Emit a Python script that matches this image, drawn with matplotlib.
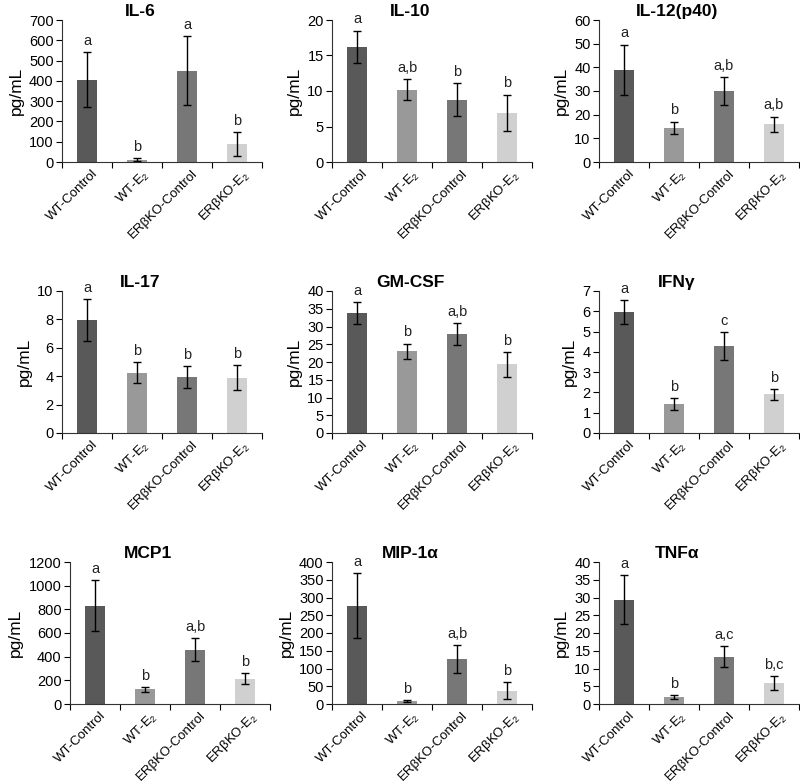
import matplotlib
matplotlib.use('Agg')
import matplotlib.pyplot as plt
import numpy as np

plt.rcParams['font.family'] = ['Liberation Sans', 'DejaVu Sans']
plt.rcParams['mathtext.fontset'] = 'custom'
plt.rcParams['mathtext.rm'] = 'Liberation Sans'
plt.rcParams['mathtext.default'] = 'rm'

groups = ['WT-Control', 'WT-E$_2$', 'ERβKO-Control', 'ERβKO-E$_2$']
colors = ['#595959', '#999999', '#777777', '#d0d0d0']

titles = ['IL-6', 'IL-10', 'IL-12(p40)', 'IL-17', 'GM-CSF', 'IFNγ', 'MCP1', 'MIP-1α', 'TNFα']

il6 = [405, 12, 450, 88]
il6_err = [135, 8, 170, 58]
il6_sig = ['a', 'b', 'a', 'b']

il10 = [16.2, 10.2, 8.8, 6.9]
il10_err = [2.3, 1.5, 2.3, 2.6]
il10_sig = ['a', 'a,b', 'b', 'b']

il12 = [39, 14.4, 30, 16]
il12_err = [10.6, 2.7, 6, 3.2]
il12_sig = ['a', 'b', 'a,b', 'a,b']

il17 = [7.95, 4.25, 3.95, 3.9]
il17_err = [1.5, 0.75, 0.75, 0.9]
il17_sig = ['a', 'b', 'b', 'b']

gmcsf = [33.8, 23, 27.9, 19.4]
gmcsf_err = [3.0, 2.2, 3.1, 3.5]
gmcsf_sig = ['a', 'b', 'a,b', 'b']

ifng = [5.95, 1.42, 4.3, 1.9]
ifng_err = [0.6, 0.31, 0.68, 0.28]
ifng_sig = ['a', 'b', 'c', 'b']

mcp1 = [830, 125, 460, 215]
mcp1_err = [215, 20, 95, 45]
mcp1_sig = ['a', 'b', 'a,b', 'b']

mip1a = [277, 8, 126, 38]
mip1a_err = [92, 2, 40, 24]
mip1a_sig = ['a', 'b', 'a,b', 'b']

tnfa = [29.3, 2, 13.3, 5.9]
tnfa_err = [6.9, 0.5, 3, 1.9]
tnfa_sig = ['a', 'b', 'a,c', 'b,c']

ymax = [700, 20, 60, 10, 40, 7, 1200, 400, 40]
ystep = [100, 5, 10, 2, 5, 1, 200, 50, 5]

means = [il6, il10, il12, il17, gmcsf, ifng, mcp1, mip1a, tnfa]
errs = [il6_err, il10_err, il12_err, il17_err, gmcsf_err, ifng_err, mcp1_err, mip1a_err, tnfa_err]
sigs = [il6_sig, il10_sig, il12_sig, il17_sig, gmcsf_sig, ifng_sig, mcp1_sig, mip1a_sig, tnfa_sig]

W, H = 800, 784
fig = plt.figure(figsize=(W / 100, H / 100), dpi=100)

lefts = [[62, 332, 599], [62, 332, 599], [70, 332, 599]]
tops = [20, 291, 562]
aw, ah = 200, 142

x = np.arange(4)
for i in range(9):
    r, c = divmod(i, 3)
    l, t = lefts[r][c], tops[r]
    ax = fig.add_axes([l / W, 1 - (t + ah) / H, aw / W, ah / H])
    ax.bar(x, means[i], width=0.4, color=colors, zorder=2)
    ax.errorbar(x, means[i], yerr=errs[i], fmt='none', ecolor='black',
                elinewidth=1, capsize=3, capthick=1, zorder=3)
    for xi, m, e, s in zip(x, means[i], errs[i], sigs[i]):
        ax.annotate(s, xy=(xi, m + e), xytext=(0, 3), textcoords='offset points',
                    ha='center', va='bottom', fontsize=10.5, color='#222222')
    ax.set_xlim(-0.5, 3.5)
    ax.set_ylim(0, ymax[i])
    ax.set_yticks(np.arange(0, ymax[i] + ystep[i] / 2, ystep[i]))
    ax.set_xticks([-0.5, 0.5, 1.5, 2.5, 3.5])
    ax.set_xticklabels([])
    ax.set_xticks(x + 0.1, minor=True)
    ax.set_xticklabels(groups, minor=True, rotation=45, ha='right',
                       rotation_mode='anchor', fontsize=9.5)
    ax.tick_params(axis='x', which='minor', length=0, pad=4)
    ax.tick_params(axis='x', which='major', length=4, direction='out')
    ax.tick_params(axis='y', length=4, labelsize=10.5, pad=2)
    for sp in ['top', 'right']:
        ax.spines[sp].set_visible(False)
    for sp in ['left', 'bottom']:
        ax.spines[sp].set_color('#333333')
    ax.set_ylabel('pg/mL', fontsize=12.5)
    ax.set_title(titles[i], fontsize=12.5, fontweight='bold', x=0.39, pad=3)

fig.savefig('out.png', dpi=100)
